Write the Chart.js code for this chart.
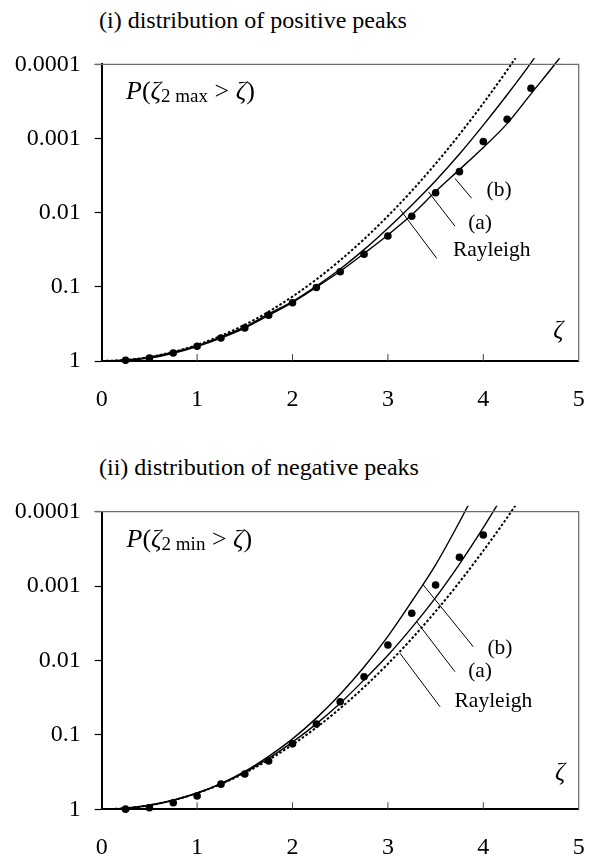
<!DOCTYPE html>
<html>
<head>
<meta charset="utf-8">
<script src="https://cdn.jsdelivr.net/npm/chart.js"></script>
<style>
    body { margin: 0; width: 595px; height: 860px; overflow: hidden; background: #fff; font-family: "Liberation Serif", serif; }
    .title { position: absolute; left: 99px; font-size: 24px; line-height: 1; color: #000; white-space: nowrap; }
    .panel { position: absolute; left: 0; width: 595px; height: 430px; }
</style>
</head>
<body>
<div class="title" style="top: 7.5px">(i) distribution of positive peaks</div>
<div class="panel" style="top: 0"><canvas id="chart1" width="595" height="430"></canvas></div>
<div class="title" style="top: 454.5px">(ii) distribution of negative peaks</div>
<div class="panel" style="top: 447px"><canvas id="chart2" width="595" height="430"></canvas></div>

<script>
// axis ticks
const xTicks = [0, 1, 2, 3, 4, 5]
const yTicks = [1, 0.1, 0.01, 0.001, 0.0001]
const yTickLabels = ['1', '0.1', '0.01', '0.001', '0.0001']

// Rayleigh (same in both panels)
const zetaRayleigh = [0, 0.25, 0.5, 0.75, 1, 1.25, 1.5, 1.75, 2, 2.25, 2.5, 2.75, 3, 3.25, 3.5, 3.75, 4, 4.25, 4.5]
const rayleigh = [1, 0.969, 0.8825, 0.7548, 0.6065, 0.4578, 0.3247, 0.2163, 0.1353, 0.0796, 0.0439, 0.0228, 0.0111, 0.00509, 0.00219, 0.000884, 0.000335, 0.00012, 0.0000401]

// (i) positive peaks
const zetaPosA = [0, 0.25, 0.5, 0.75, 1, 1.25, 1.5, 1.75, 2, 2.25, 2.5, 2.75, 3, 3.25, 3.5, 3.75, 4, 4.25, 4.5, 4.75]
const posA = [1, 0.970, 0.887, 0.762, 0.621, 0.473, 0.347, 0.232, 0.158, 0.0977, 0.0575, 0.0315, 0.0162, 0.00794, 0.00372, 0.00162, 0.00066, 0.000257, 0.0000955, 0.0000331]

const zetaPosB = [0, 0.25, 0.5, 0.75, 1, 1.25, 1.5, 1.75, 2, 2.25, 2.5, 2.75, 3, 3.25, 3.5, 3.75, 4, 4.25, 4.5, 4.75, 5]
const posB = [1, 0.977, 0.912, 0.785, 0.638, 0.49, 0.359, 0.243, 0.162, 0.101, 0.0617, 0.0355, 0.02, 0.0107, 0.0052, 0.00263, 0.00132, 0.00063, 0.00025, 0.0001, 0.000037]

const zetaPosSim = [0.25, 0.5, 0.75, 1, 1.25, 1.5, 1.75, 2, 2.25, 2.5, 2.75, 3, 3.25, 3.5, 3.75, 4, 4.25, 4.5]
const posSim = [0.98, 0.91, 0.78, 0.633, 0.489, 0.358, 0.241, 0.164, 0.102, 0.0625, 0.0364, 0.0206, 0.0112, 0.0054, 0.0028, 0.0011, 0.00055, 0.00021]

// (ii) negative peaks
const zetaNegA = [0, 0.25, 0.5, 0.75, 1, 1.25, 1.5, 1.75, 2, 2.25, 2.5, 2.75, 3, 3.25, 3.5, 3.75, 4, 4.25]
const negA = [1, 0.969, 0.882, 0.755, 0.604, 0.454, 0.318, 0.2065, 0.125, 0.0711, 0.0376, 0.0182, 0.00849, 0.00361, 0.001426, 0.000505, 0.0001637, 0.000049]

const zetaNegB = [0, 0.25, 0.5, 0.75, 1, 1.25, 1.5, 1.75, 2, 2.25, 2.5, 2.75, 3, 3.25, 3.5, 3.75, 4]
const negB = [1, 0.969, 0.882, 0.755, 0.607, 0.451, 0.310, 0.194, 0.113, 0.0595, 0.0284, 0.01222, 0.00473, 0.00161, 0.000519, 0.0001374, 0.000033]

const zetaNegSim = [0.25, 0.5, 0.75, 1, 1.25, 1.5, 1.75, 2, 2.25, 2.5, 2.75, 3, 3.25, 3.5, 3.75, 4]
const negSim = [0.995, 0.955, 0.815, 0.663, 0.459, 0.336, 0.224, 0.132, 0.0713, 0.0358, 0.0165, 0.0062, 0.00232, 0.000966, 0.00041, 0.000206]

const FONT = '"Liberation Serif", "Times New Roman", serif'

// annotation anchors in data units (zeta, P)
const notes1 = {
    sub: '2 max',
    head: [0.255, 0.000234],
    zeta: [4.786, 0.403],
    leaders: [
        {text: '(b)', from: [3.878, 0.0064], to: [3.703, 0.00345], at: [4.165, 0.00495]},
        {text: '(a)', from: [3.703, 0.0152], to: [3.424, 0.00523], at: [3.966, 0.0139]},
        {text: 'Rayleigh', from: [3.512, 0.0413], to: [3.127, 0.00903], at: [4.088, 0.0319]}
    ]
}
const notes2 = {
    sub: '2 min',
    head: [0.26, 0.00024],
    zeta: [4.804, 0.328],
    leaders: [
        {text: '(b)', from: [3.895, 0.00653], to: [3.371, 0.000966], at: [4.175, 0.00686]},
        {text: '(a)', from: [3.703, 0.01415], to: [3.302, 0.00301], at: [3.966, 0.01415]},
        {text: 'Rayleigh', from: [3.546, 0.0418], to: [3.127, 0.0080], at: [4.105, 0.0358]}
    ]
}

function pairs(xs, ys) {
    return xs.map((x, i) => ({x: x, y: ys[i]}))
}

const annotate = {
    id: 'annotate',
    afterDatasetsDraw(chart, args, opts) {
        const ctx = chart.ctx
        const area = chart.chartArea
        const px = v => chart.scales.x.getPixelForValue(v)
        const py = v => chart.scales.y.getPixelForValue(v)
        const n = opts.notes

        ctx.save()
        // top and right frame
        ctx.strokeStyle = '#6e6e6e'
        ctx.lineWidth = 1.3
        ctx.beginPath()
        ctx.moveTo(area.left - 7, area.top)
        ctx.lineTo(area.right, area.top)
        ctx.lineTo(area.right, area.bottom)
        ctx.stroke()

        // inner x ticks
        ctx.strokeStyle = '#444'
        ctx.lineWidth = 1
        xTicks.slice(1, -1).forEach(t => {
            ctx.beginPath()
            ctx.moveTo(px(t), area.bottom)
            ctx.lineTo(px(t), area.bottom - 7)
            ctx.stroke()
        })

        // leaders and labels
        ctx.strokeStyle = '#000'
        ctx.fillStyle = '#000'
        ctx.textAlign = 'center'
        ctx.textBaseline = 'middle'
        ctx.font = '21.5px ' + FONT
        n.leaders.forEach(l => {
            ctx.beginPath()
            ctx.moveTo(px(l.from[0]), py(l.from[1]))
            ctx.lineTo(px(l.to[0]), py(l.to[1]))
            ctx.stroke()
            ctx.fillText(l.text, px(l.at[0]), py(l.at[1]))
        })

        // zeta axis name
        ctx.font = 'italic 25px ' + FONT
        ctx.fillText('ζ', px(n.zeta[0]), py(n.zeta[1]))

        // P(zeta_2max > zeta)
        let x = px(n.head[0])
        const y = py(n.head[1])
        ctx.textAlign = 'left'
        const parts = [
            ['italic 26px ', 'P', 0],
            ['26px ', '(', 0],
            ['italic 26px ', 'ζ', 0],
            ['19px ', n.sub, 5.5],
            ['26px ', ' > ', 0],
            ['italic 26px ', 'ζ', 0],
            ['26px ', ')', 0]
        ]
        parts.forEach(p => {
            ctx.font = p[0] + FONT
            ctx.fillText(p[1], x, y + p[2])
            x += ctx.measureText(p[1]).width
        })
        ctx.restore()
    }
}

function makeChart(id, a, b, sim, layout, notes) {
    const lineBase = {
        showLine: true,
        pointRadius: 0,
        borderColor: '#000',
        cubicInterpolationMode: 'monotone',
        clip: {left: 0, top: 6, right: 0, bottom: 0}
    }
    return new Chart(document.getElementById(id), {
        type: 'scatter',
        data: {
            datasets: [
                Object.assign({label: 'Rayleigh', data: pairs(zetaRayleigh, rayleigh), borderWidth: 2, borderDash: [2.5, 2]}, lineBase),
                Object.assign({label: '(a)', data: pairs(a[0], a[1]), borderWidth: 1.4}, lineBase),
                Object.assign({label: '(b)', data: pairs(b[0], b[1]), borderWidth: 1.4}, lineBase),
                {
                    label: 'sim',
                    data: pairs(sim[0], sim[1]),
                    pointRadius: 3.8,
                    pointBackgroundColor: '#000',
                    pointBorderColor: '#000',
                    pointBorderWidth: 0,
                    clip: 6
                }
            ]
        },
        options: {
            responsive: false,
            animation: false,
            events: [],
            layout: {padding: {top: layout.top, right: 16.3, bottom: 0, left: 0}},
            plugins: {
                legend: {display: false},
                tooltip: {enabled: false},
                annotate: {notes: notes}
            },
            scales: {
                x: {
                    type: 'linear',
                    min: 0,
                    max: 5,
                    afterBuildTicks: s => { s.ticks = xTicks.map(v => ({value: v})) },
                    afterFit: s => {
                        s.height = layout.xHeight
                        s.paddingLeft = 0
                        s.paddingRight = 0
                    },
                    grid: {display: true, drawOnChartArea: false, drawTicks: false},
                    border: {display: true, color: '#000', width: 2},
                    ticks: {color: '#000', padding: 24, font: {family: FONT, size: 24}}
                },
                y: {
                    type: 'logarithmic',
                    reverse: true,
                    min: 0.0001,
                    max: 1,
                    afterBuildTicks: s => { s.ticks = yTicks.map(v => ({value: v})) },
                    afterFit: s => {
                        s.width = 101.7
                        s.paddingTop = 0
                        s.paddingBottom = 0
                    },
                    grid: {display: true, drawOnChartArea: false, drawTicks: true, tickLength: 7, color: '#000', tickWidth: 1.2},
                    border: {display: true, color: '#000', width: 2},
                    ticks: {
                        color: '#000',
                        padding: 14,
                        font: {family: FONT, size: 24},
                        callback: (v, i) => yTickLabels[i]
                    }
                }
            }
        },
        plugins: [annotate]
    })
}

makeChart('chart1', [zetaPosA, posA], [zetaPosB, posB], [zetaPosSim, posSim], {top: 64.3, xHeight: 69}, notes1)
makeChart('chart2', [zetaNegA, negA], [zetaNegB, negB], [zetaNegSim, negSim], {top: 64.7, xHeight: 67.7}, notes2)
</script>
</body>
</html>
